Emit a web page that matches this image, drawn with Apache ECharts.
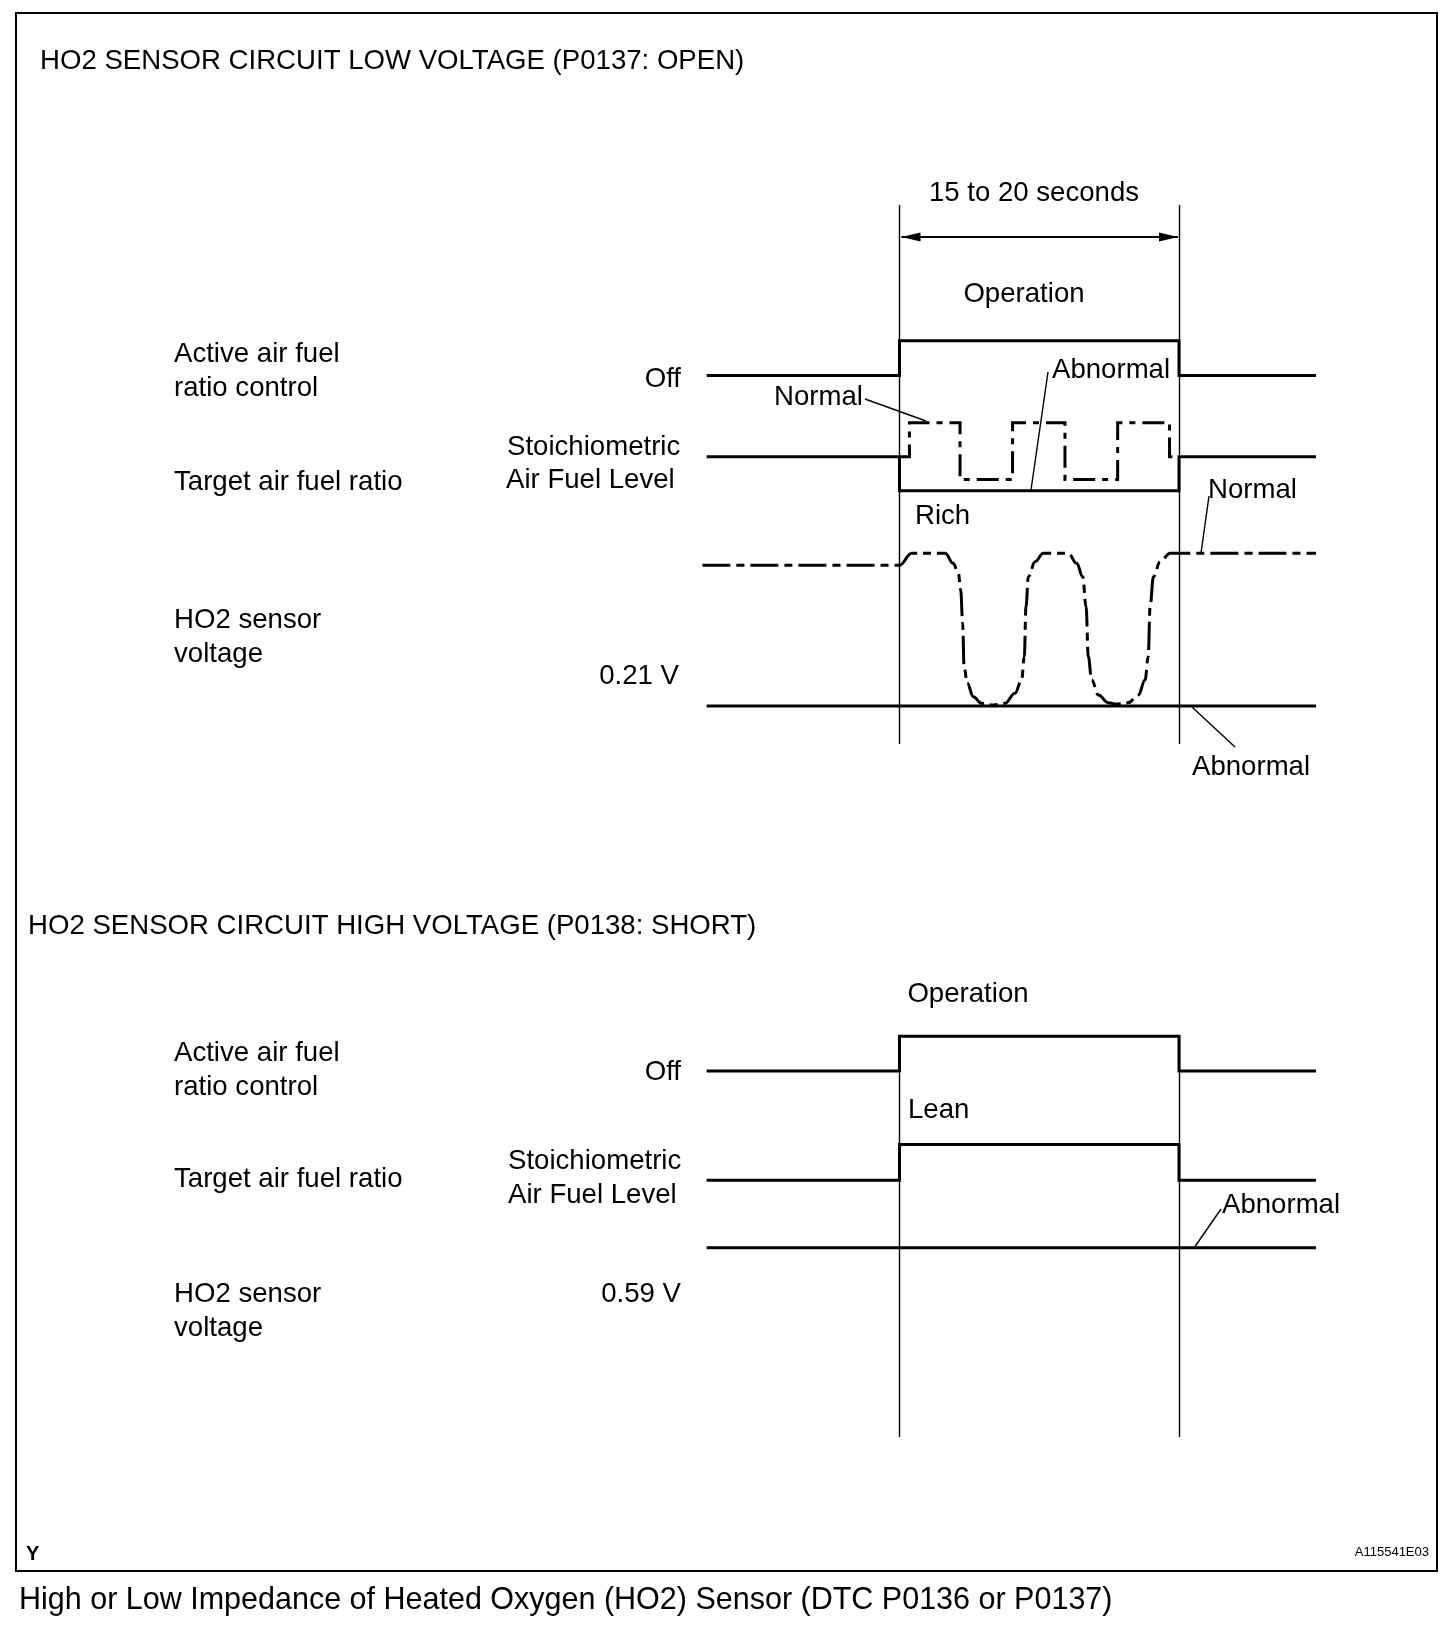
<!DOCTYPE html>
<html>
<head>
<meta charset="utf-8">
<title>HO2 sensor circuit</title>
<script src="https://cdn.jsdelivr.net/npm/echarts@6.0.0/dist/echarts.min.js"></script>
<style>
html, body { margin: 0; padding: 0; background: #fff; }
#chartDiv { width: 1456px; height: 1650px; }
</style>
</head>
<body>
<div id="chartDiv"></div>
<script>
// time in seconds, active control runs from 0 to 20
var opWindow = [0, 20];
var stepTime = [-13.8, 0, 0, 20, 20, 29.8];
var activeLevel = [0, 0, 1, 1, 0, 0];      // off / on
var richLevel = [0, 0, -1, -1, 0, 0];      // P0137 target (abnormal, rich)
var leanLevel = [0, 0, 1, 1, 0, 0];        // P0138 target (lean)

// normal target a/f switching (1 = lean, -0.67 = rich)
var targetNormTime = [0, 0.71, 0.71, 4.33, 4.33, 8.09, 8.09, 11.84, 11.84, 15.61, 15.61, 19.32, 19.32, 20];
var targetNormLevel = [0, 0, 1, 1, -0.67, -0.67, 1, 1, -0.67, -0.67, 1, 1, 0, 0];

// ho2 sensor voltage, normal response (V)
var ho2NormTime = [-14.1, 0, 0.87, 3.26, 3.85, 4.21, 4.38, 4.52, 4.62, 4.85, 5.28, 5.88, 6.71, 7.55, 8.26, 8.74,
    8.93, 9.05, 9.22, 9.70, 10.29, 12.08, 12.68, 13.11, 13.35, 13.51, 13.75, 14.23, 14.94, 15.54, 16.37, 17.09,
    17.57, 17.80, 17.93, 18.17, 18.65, 19.37, 29.8];
var ho2NormVolt = [0.80, 0.80, 0.85, 0.85, 0.808, 0.766, 0.696, 0.557, 0.375, 0.305, 0.249, 0.221, 0.214, 0.221, 0.263, 0.319,
    0.417, 0.626, 0.752, 0.815, 0.85, 0.85, 0.808, 0.752, 0.626, 0.417, 0.319, 0.256, 0.224, 0.218, 0.224, 0.256,
    0.319, 0.417, 0.626, 0.752, 0.815, 0.85, 0.85];
var ho2OpenTime = [-13.8, 29.8];
var ho2OpenVolt = [0.21, 0.21];
var ho2ShortTime = [-13.8, 29.8];
var ho2ShortVolt = [0.59, 0.59];

var FONT = 'Liberation Sans, Arial, sans-serif';
var FS = 27.6;

function pairs(xs, ys) {
    var out = [];
    for (var i = 0; i < xs.length; i++) {
        out.push([xs[i], ys[i]]);
    }
    return out;
}

function trace(idx, xs, ys, dash) {
    return {
        type: 'line',
        xAxisIndex: idx,
        yAxisIndex: idx,
        data: pairs(xs, ys),
        symbol: 'none',
        clip: false,
        smooth: false,
        silent: true,
        lineStyle: { color: '#000', width: 3, type: dash || 'solid', cap: 'butt', join: 'miter' }
    };
}

function txt(s, x, y, size, align, weight) {
    return {
        type: 'text',
        style: {
            text: s, x: x, y: y + 3, fill: '#000',
            font: (weight || 'normal') + ' ' + size + 'px ' + FONT,
            textAlign: align || 'left',
            textVerticalAlign: 'middle'
        }
    };
}

function leader(x1, y1, x2, y2) {
    return {
        type: 'line',
        shape: { x1: x1, y1: y1, x2: x2, y2: y2 },
        style: { stroke: '#000', lineWidth: 1.4 }
    };
}

// grids: 0-2 top rows, 3-5 bottom rows, 6-7 operation window frames
var gridBoxes = [
    [323.4, 69.6], [405.7, 102], [517.5, 238.6],
    [1018.8, 69.6], [1126.75, 71.4], [1197.6, 95.4],
    [205, 539], [1036.2, 400.8]
];
var yRanges = [
    [-0.5, 1.5], [-1.5, 1.5], [0, 1],
    [-0.5, 1.5], [-0.5, 1.5], [0.4, 0.8],
    [0, 1], [0, 1]
];

var grids = [], xAxes = [], yAxes = [];
for (var g = 0; g < gridBoxes.length; g++) {
    grids.push({ left: 701.06, width: 614.9, top: gridBoxes[g][0], height: gridBoxes[g][1], show: false });
    xAxes.push({ type: 'value', gridIndex: g, min: -14.2, max: 29.8, show: false });
    yAxes.push({ type: 'value', gridIndex: g, min: yRanges[g][0], max: yRanges[g][1], show: false });
}

var thinLine = { color: '#000', width: 1.4, type: 'solid' };

function windowSeries(idx) {
    return {
        type: 'line',
        xAxisIndex: idx,
        yAxisIndex: idx,
        data: [[opWindow[0], 0.5], [opWindow[1], 0.5]],
        symbol: 'none',
        lineStyle: { width: 0, opacity: 0 },
        silent: true,
        markLine: {
            silent: true,
            symbol: ['none', 'none'],
            label: { show: false },
            lineStyle: thinLine,
            data: [{ xAxis: opWindow[0] }, { xAxis: opWindow[1] }]
        }
    };
}

var graphics = [
    {
        type: 'rect',
        shape: { x: 16, y: 13, width: 1421, height: 1558 },
        style: { fill: 'none', stroke: '#000', lineWidth: 2 }
    },
    txt('HO2 SENSOR CIRCUIT LOW VOLTAGE (P0137: OPEN)', 40, 58, FS),
    txt('15 to 20 seconds', 1034, 190, FS, 'center'),
    txt('Operation', 1024, 291, FS, 'center'),
    txt('Active air fuel', 174, 351, FS),
    txt('ratio control', 174, 385, FS),
    txt('Off', 681, 376, FS, 'right'),
    txt('Normal', 774, 394, FS),
    txt('Abnormal', 1052, 367, FS),
    txt('Stoichiometric', 507, 444, FS),
    txt('Air Fuel Level', 506, 477, FS),
    txt('Target air fuel ratio', 174, 479, FS),
    txt('Rich', 915, 513, FS),
    txt('Normal', 1208, 487, FS),
    txt('HO2 sensor', 174, 617, FS),
    txt('voltage', 174, 651, FS),
    txt('0.21 V', 679, 673, FS, 'right'),
    txt('Abnormal', 1192, 764, FS),
    leader(865, 399, 926, 421),
    leader(1048, 372, 1031, 490),
    leader(1209, 496, 1201, 553),
    leader(1192, 707, 1235, 747),

    txt('HO2 SENSOR CIRCUIT HIGH VOLTAGE (P0138: SHORT)', 28, 923, FS),
    txt('Operation', 968, 991, FS, 'center'),
    txt('Active air fuel', 174, 1050, FS),
    txt('ratio control', 174, 1084, FS),
    txt('Off', 681, 1069, FS, 'right'),
    txt('Lean', 908, 1107, FS),
    txt('Stoichiometric', 508, 1158, FS),
    txt('Air Fuel Level', 508, 1192, FS),
    txt('Target air fuel ratio', 174, 1176, FS),
    txt('Abnormal', 1222, 1202, FS),
    leader(1221, 1209, 1194, 1248),
    txt('HO2 sensor', 174, 1291, FS),
    txt('voltage', 174, 1325, FS),
    txt('0.59 V', 681, 1291, FS, 'right'),

    txt('Y', 26, 1551, 20, 'left', 'bold'),
    txt('A115541E03', 1429, 1549, 13, 'right'),
    txt('High or Low Impedance of Heated Oxygen (HO2) Sensor (DTC P0136 or P0137)', 19, 1598, 30.5)
];

var myChart = echarts.init(document.getElementById('chartDiv'), null, { renderer: 'canvas' });

var option = {
    backgroundColor: '#fff',
    animation: false,
    grid: grids,
    xAxis: xAxes,
    yAxis: yAxes,
    series: [
        windowSeries(6),
        windowSeries(7),
        trace(0, stepTime, activeLevel),
        trace(1, stepTime, richLevel),
        trace(1, targetNormTime, targetNormLevel, [22, 7, 6, 7]),
        trace(2, ho2OpenTime, ho2OpenVolt),
        Object.assign(trace(2, ho2NormTime, ho2NormVolt, [28, 6, 8, 6]), { smooth: 0.4, smoothMonotone: 'x' }),
        trace(3, stepTime, activeLevel),
        trace(4, stepTime, leanLevel),
        trace(5, ho2ShortTime, ho2ShortVolt)
    ],
    graphic: graphics
};

myChart.setOption(option);

// "15 to 20 seconds" dimension arrow between the operation window edges
var a = myChart.convertToPixel({ gridIndex: 6 }, [opWindow[0], 0.9406]);
var b = myChart.convertToPixel({ gridIndex: 6 }, [opWindow[1], 0.9406]);
var ax = a[0] + 2, bx = b[0] - 1, ay = a[1];
graphics.push(
    { type: 'line', shape: { x1: ax, y1: ay, x2: bx, y2: ay }, style: { stroke: '#000', lineWidth: 2 } },
    { type: 'polygon', shape: { points: [[ax, ay], [ax + 19, ay - 4.5], [ax + 19, ay + 4.5]] }, style: { fill: '#000' } },
    { type: 'polygon', shape: { points: [[bx, ay], [bx - 19, ay - 4.5], [bx - 19, ay + 4.5]] }, style: { fill: '#000' } }
);
myChart.setOption({ graphic: graphics });
</script>
</body>
</html>
